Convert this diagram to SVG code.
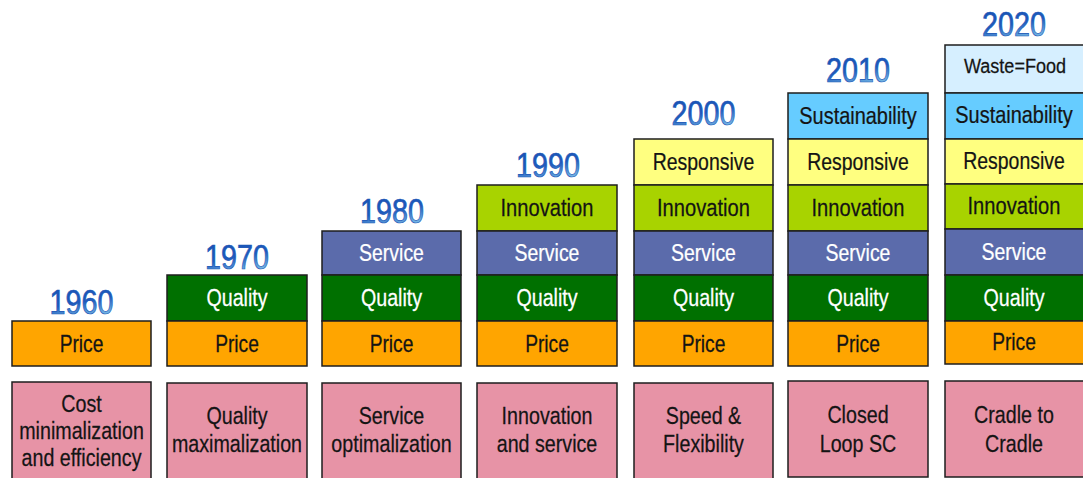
<svg xmlns="http://www.w3.org/2000/svg" width="1083" height="478" viewBox="0 0 1083 478">
<defs>
<linearGradient id="yr" x1="0" y1="0" x2="0.3" y2="1">
<stop offset="0" stop-color="#174fb0"/>
<stop offset="0.6" stop-color="#1f5cbd"/>
<stop offset="1" stop-color="#7cc0e8"/>
</linearGradient>
</defs>
<style>
rect{stroke:#1e1e1e;stroke-width:1.5}
.pr{fill:#ffa500}.ql{fill:#007000}.sv{fill:#5b6bab}.in{fill:#a8d300}.rs{fill:#ffff80}.su{fill:#66ccff}.wf{fill:#d6efff}.pk{fill:#e793a6}
text{font-family:"Liberation Sans",Arial,sans-serif;font-size:24px;text-anchor:middle;fill:#141414;stroke:#141414;stroke-width:0.25}
.w{fill:#ffffff;stroke:#ffffff}
.yr{font-size:35px;fill:url(#yr);stroke:#1a55b6;stroke-width:0.7}
</style>
<rect width="1083" height="478" fill="#ffffff" style="stroke:none"/>

<g id="col1960">
<text class="yr" transform="translate(81.5 314) scale(0.82 1)">1960</text>
<rect class="pr" x="12" y="321" width="139" height="45"/>
<text transform="translate(81.5 352) scale(0.8 1)">Price</text>
</g>
<g id="goal1960">
<rect class="pk" x="12" y="382" width="139" height="97"/>
<text transform="translate(81.5 412) scale(0.82 1)">Cost</text>
<text transform="translate(81.5 439) scale(0.82 1)">minimalization</text>
<text transform="translate(81.5 466) scale(0.82 1)">and efficiency</text>
</g>

<g id="col1970">
<text class="yr" transform="translate(237 269) scale(0.82 1)">1970</text>
<rect class="ql" x="167" y="275" width="140" height="46"/>
<text class="w" transform="translate(237 306) scale(0.82 1)">Quality</text>
<rect class="pr" x="167" y="321" width="140" height="45"/>
<text transform="translate(237 352) scale(0.8 1)">Price</text>
</g>
<g id="goal1970">
<rect class="pk" x="167" y="383" width="140" height="96"/>
<text transform="translate(237 424) scale(0.82 1)">Quality</text>
<text transform="translate(237 452) scale(0.82 1)">maximalization</text>
</g>

<g id="col1980">
<text class="yr" transform="translate(392 223) scale(0.82 1)">1980</text>
<rect class="sv" x="322" y="231" width="139" height="44"/>
<text class="w" transform="translate(391.5 261) scale(0.81 1)">Service</text>
<rect class="ql" x="322" y="275" width="139" height="46"/>
<text class="w" transform="translate(391.5 306) scale(0.82 1)">Quality</text>
<rect class="pr" x="322" y="321" width="139" height="45"/>
<text transform="translate(391.5 352) scale(0.8 1)">Price</text>
</g>
<g id="goal1980">
<rect class="pk" x="322" y="383" width="139" height="96"/>
<text transform="translate(391.5 424) scale(0.82 1)">Service</text>
<text transform="translate(391.5 452) scale(0.82 1)">optimalization</text>
</g>

<g id="col1990">
<text class="yr" transform="translate(548 177) scale(0.82 1)">1990</text>
<rect class="in" x="477" y="185" width="140" height="46"/>
<text transform="translate(547 216) scale(0.84 1)">Innovation</text>
<rect class="sv" x="477" y="231" width="140" height="44"/>
<text class="w" transform="translate(547 261) scale(0.81 1)">Service</text>
<rect class="ql" x="477" y="275" width="140" height="46"/>
<text class="w" transform="translate(547 306) scale(0.82 1)">Quality</text>
<rect class="pr" x="477" y="321" width="140" height="45"/>
<text transform="translate(547 352) scale(0.8 1)">Price</text>
</g>
<g id="goal1990">
<rect class="pk" x="477" y="383" width="140" height="96"/>
<text transform="translate(547 424) scale(0.82 1)">Innovation</text>
<text transform="translate(547 452) scale(0.82 1)">and service</text>
</g>

<g id="col2000">
<text class="yr" transform="translate(703.5 125) scale(0.82 1)">2000</text>
<rect class="rs" x="634" y="139" width="139" height="46"/>
<text transform="translate(703.5 170) scale(0.81 1)">Responsive</text>
<rect class="in" x="634" y="185" width="139" height="46"/>
<text transform="translate(703.5 216) scale(0.84 1)">Innovation</text>
<rect class="sv" x="634" y="231" width="139" height="44"/>
<text class="w" transform="translate(703.5 261) scale(0.81 1)">Service</text>
<rect class="ql" x="634" y="275" width="139" height="46"/>
<text class="w" transform="translate(703.5 306) scale(0.82 1)">Quality</text>
<rect class="pr" x="634" y="321" width="139" height="45"/>
<text transform="translate(703.5 352) scale(0.8 1)">Price</text>
</g>
<g id="goal2000">
<rect class="pk" x="634" y="383" width="139" height="96"/>
<text transform="translate(703.5 424) scale(0.82 1)">Speed &amp;</text>
<text transform="translate(703.5 452) scale(0.82 1)">Flexibility</text>
</g>

<g id="col2010">
<text class="yr" transform="translate(858 82) scale(0.82 1)">2010</text>
<rect class="su" x="788" y="93" width="140" height="46"/>
<text transform="translate(858 124) scale(0.83 1)">Sustainability</text>
<rect class="rs" x="788" y="139" width="140" height="46"/>
<text transform="translate(858 170) scale(0.81 1)">Responsive</text>
<rect class="in" x="788" y="185" width="140" height="46"/>
<text transform="translate(858 216) scale(0.84 1)">Innovation</text>
<rect class="sv" x="788" y="231" width="140" height="44"/>
<text class="w" transform="translate(858 261) scale(0.81 1)">Service</text>
<rect class="ql" x="788" y="275" width="140" height="46"/>
<text class="w" transform="translate(858 306) scale(0.82 1)">Quality</text>
<rect class="pr" x="788" y="321" width="140" height="45"/>
<text transform="translate(858 352) scale(0.8 1)">Price</text>
</g>
<g id="goal2010">
<rect class="pk" x="788" y="381" width="140" height="96"/>
<text transform="translate(858 423) scale(0.82 1)">Closed</text>
<text transform="translate(858 452) scale(0.82 1)">Loop SC</text>
</g>

<g id="col2020">
<text class="yr" transform="translate(1014 36) scale(0.82 1)">2020</text>
<rect class="wf" x="945" y="45" width="140" height="48"/>
<text transform="translate(1015 73) scale(0.86 1)" style="font-size:21px">Waste=Food</text>
<rect class="su" x="945" y="93" width="140" height="46"/>
<text transform="translate(1014 123) scale(0.83 1)">Sustainability</text>
<rect class="rs" x="945" y="139" width="140" height="45"/>
<text transform="translate(1014 169) scale(0.81 1)">Responsive</text>
<rect class="in" x="945" y="184" width="140" height="45"/>
<text transform="translate(1014 214) scale(0.84 1)">Innovation</text>
<rect class="sv" x="945" y="229" width="140" height="46"/>
<text class="w" transform="translate(1014 260) scale(0.81 1)">Service</text>
<rect class="ql" x="945" y="275" width="140" height="46"/>
<text class="w" transform="translate(1014 306) scale(0.82 1)">Quality</text>
<rect class="pr" x="945" y="321" width="140" height="43"/>
<text transform="translate(1014 350) scale(0.8 1)">Price</text>
</g>
<g id="goal2020">
<rect class="pk" x="945" y="381" width="140" height="96"/>
<text transform="translate(1014 423) scale(0.82 1)">Cradle to</text>
<text transform="translate(1014 452) scale(0.82 1)">Cradle</text>
</g>
</svg>
